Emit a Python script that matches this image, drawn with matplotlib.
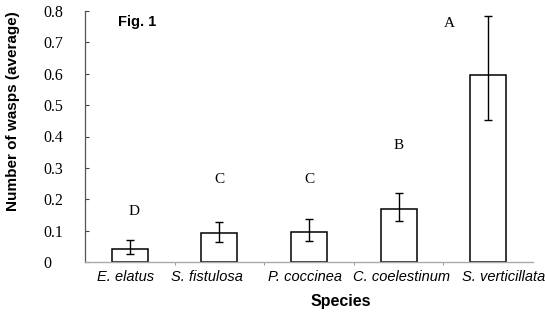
import matplotlib
matplotlib.use("Agg")
import matplotlib.pyplot as plt
import matplotlib.transforms as mtransforms
import numpy as np

species = ["E. elatus", "S. fistulosa", "P. coccinea", "C. coelestinum", "S. verticillata"]
means = [0.041, 0.092, 0.096, 0.169, 0.595]
err_low = [0.025, 0.064, 0.067, 0.131, 0.452]
err_high = [0.070, 0.127, 0.137, 0.220, 0.783]
letters = ["D", "C", "C", "B", "A"]
letter_x = [0.05, 0.0, 0.0, 0.0, -0.43]
letter_y = [0.160, 0.262, 0.262, 0.370, 0.760]
yticks = [0, 0.1, 0.2, 0.3, 0.4, 0.5, 0.6, 0.7, 0.8]
ytick_labels = ["0", "0.1", "0.2", "0.3", "0.4", "0.5", "0.6", "0.7", "0.8"]
label_shift_px = [-4, -12, -4, 3, 15]

fig = plt.figure(figsize=(5.45, 3.14), dpi=100)
ax = fig.add_axes([85/545, 52/314, 448/545, 251/314])

x = np.arange(len(species))
m = np.array(means)
lo = m - np.array(err_low)
hi = np.array(err_high) - m
ax.bar(x, m, width=0.4, color="white", edgecolor="black", linewidth=1.1, zorder=2)
ax.errorbar(x, m, yerr=[lo, hi], fmt="none", ecolor="black", elinewidth=1.0,
            capsize=3, capthick=1.0, zorder=3)

for xi, dx, ly, t in zip(x, letter_x, letter_y, letters):
    ax.text(xi + dx, ly, t, ha="center", va="center", family="Liberation Serif", fontsize=11)

ax.text(0.073, 0.955, "Fig. 1", transform=ax.transAxes, family="Liberation Sans",
        fontweight="bold", fontsize=10.5, ha="left", va="center")

ax.set_xlim(-0.5, 4.5)
ax.set_ylim(0, 0.8)
ax.set_yticks(yticks)
ax.set_yticklabels(ytick_labels, family="Liberation Serif", fontsize=11.5)
ax.set_xticks(x)
ax.set_xticklabels(species, family="Liberation Sans", style="italic", fontsize=10.5)
ax.set_xticks(np.arange(0.5, 4.5, 1), minor=True)
ax.tick_params(axis="x", which="major", length=0, pad=6)
ax.tick_params(axis="x", which="minor", length=2, color="#888888", direction="out")
ax.tick_params(axis="y", length=3, direction="in", pad=30, color="#444444")
for lab in ax.get_yticklabels():
    lab.set_horizontalalignment("left")
for lab, s in zip(ax.get_xticklabels(), label_shift_px):
    lab.set_transform(lab.get_transform() +
                      mtransforms.ScaledTranslation(s / 100, 0, fig.dpi_scale_trans))

ax.spines["top"].set_visible(False)
ax.spines["right"].set_visible(False)
ax.spines["left"].set_color("#555555")
ax.spines["left"].set_linewidth(0.9)
ax.spines["bottom"].set_color("#aaaaaa")
ax.spines["bottom"].set_linewidth(1.0)

ax.set_ylabel("Number of wasps (average)", family="Liberation Sans", fontweight="bold",
              fontsize=11)
ax.yaxis.set_label_coords(-0.145, 0.60)
ax.set_xlabel("Species", family="Liberation Sans", fontweight="bold", fontsize=11.5)
ax.xaxis.set_label_coords(0.571, -0.128)
ax.xaxis.label.set_verticalalignment("top")

fig.savefig("out.png", dpi=100)
